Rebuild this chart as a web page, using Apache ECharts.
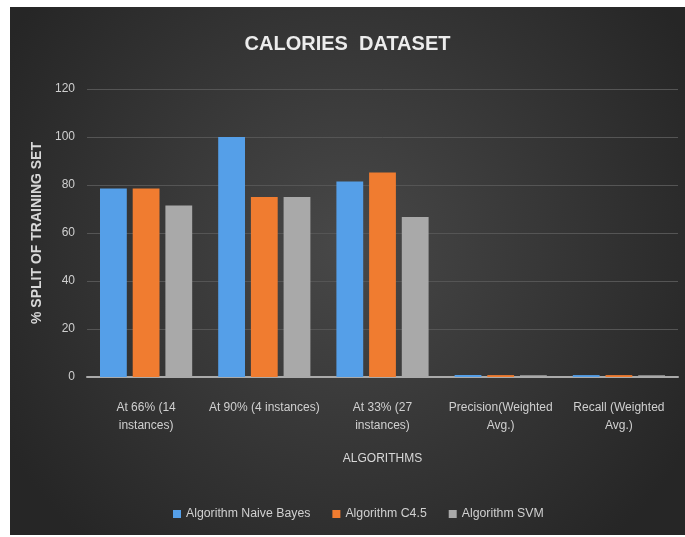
<!DOCTYPE html>
<html>
<head>
<meta charset="utf-8">
<script src="https://cdn.jsdelivr.net/npm/echarts@6/dist/echarts.min.js"></script>
<style>
  html, body { margin: 0; padding: 0; background: #fff; }
  #chart { position: absolute; left: 10px; top: 7px; width: 675px; height: 528px; }
</style>
</head>
<body>
<div id="chart"></div>
<script>
// categories on the x axis
const categories = [
  'At 66% (14\ninstances)',
  'At 90% (4 instances)',
  'At 33% (27\ninstances)',
  'Precision(Weighted\nAvg.)',
  'Recall (Weighted\nAvg.)'
];
// bar values per algorithm
const naiveBayes = [78.57, 100, 81.48, 0.83, 0.79];
const c45 = [78.57, 75, 85.19, 0.79, 0.79];
const svm = [71.43, 75, 66.67, 0.72, 0.71];
const seriesNames = ['Algorithm Naive Bayes', 'Algorithm C4.5', 'Algorithm SVM'];
const colors = ['#559fe8', '#f07c30', '#a9a9a9'];

let myChart = echarts.init(document.getElementById('chart'));

const font = '"Liberation Sans", Arial, sans-serif';

let option = {
  backgroundColor: new echarts.graphic.RadialGradient(0.5, 0.45, 0.75, [
    { offset: 0, color: '#484848' },
    { offset: 1, color: '#262626' }
  ]),
  color: colors,
  title: {
    text: 'CALORIES  DATASET',
    left: 'center',
    top: 22,
    textStyle: { color: '#ececec', fontSize: 20, fontWeight: 'bold', fontFamily: font }
  },
  legend: {
    bottom: 10,
    left: 158,
    itemWidth: 8,
    itemHeight: 8,
    itemGap: 22,
    icon: 'rect',
    textStyle: { color: '#d0d0d0', fontSize: 12.3, fontFamily: font },
    data: seriesNames
  },
  grid: { left: 77, right: 7, top: 82, bottom: 158 },
  xAxis: {
    type: 'category',
    data: categories,
    name: 'ALGORITHMS',
    nameLocation: 'middle',
    nameGap: 76,
    nameTextStyle: { color: '#d8d8d8', fontSize: 12, fontFamily: font },
    axisLine: { lineStyle: { color: '#aaaaaa', width: 2 } },
    axisTick: { show: false },
    axisLabel: {
      interval: 0,
      color: '#d0d0d0',
      fontSize: 12,
      lineHeight: 18,
      margin: 22,
      fontFamily: font
    }
  },
  yAxis: {
    type: 'value',
    min: 0,
    max: 120,
    interval: 20,
    name: '% SPLIT OF TRAINING SET',
    nameLocation: 'middle',
    nameGap: 40,
    nameTextStyle: { color: '#d8d8d8', fontSize: 14, fontWeight: 'bold', fontFamily: font },
    axisLine: { show: false },
    axisTick: { show: false },
    axisLabel: { color: '#cfcfcf', fontSize: 12, margin: 12, fontFamily: font },
    splitLine: { lineStyle: { color: '#555555', width: 1 } }
  },
  series: [
    { name: seriesNames[0], type: 'bar', data: naiveBayes, barGap: '22%', barCategoryGap: '22%' },
    { name: seriesNames[1], type: 'bar', data: c45 },
    { name: seriesNames[2], type: 'bar', data: svm }
  ]
};

myChart.setOption(option);
</script>
</body>
</html>
